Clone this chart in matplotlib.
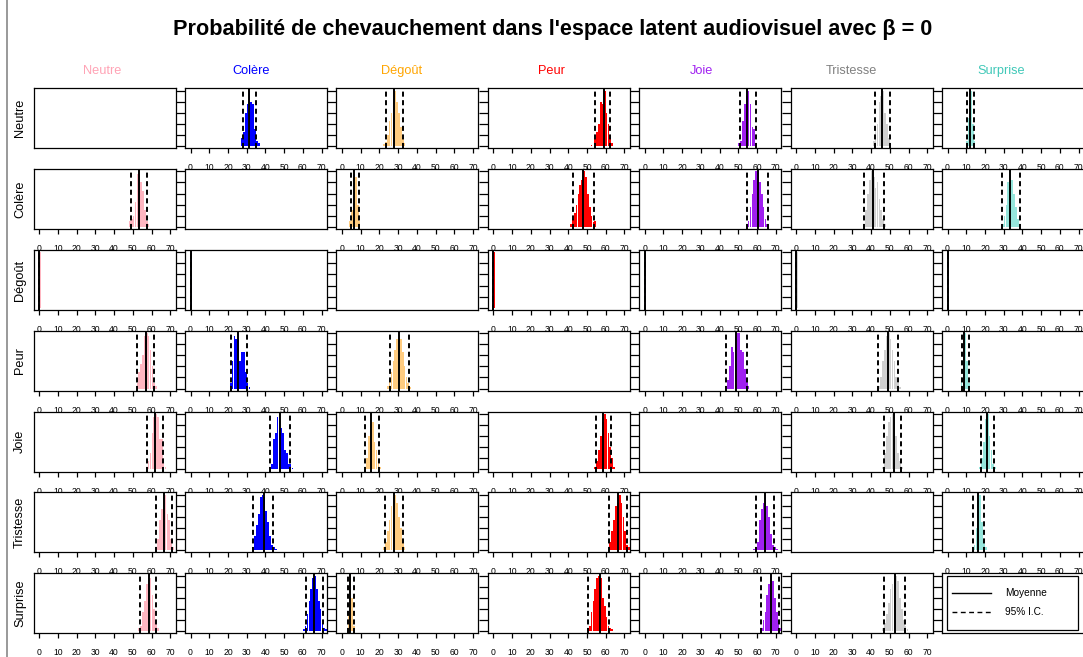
import matplotlib
matplotlib.use("Agg")
import matplotlib.pyplot as plt
from matplotlib.lines import Line2D
from matplotlib.patches import Rectangle
import numpy as np

plt.rcParams['font.family'] = ['Liberation Sans', 'DejaVu Sans']

title = "Probabilité de chevauchement dans l'espace latent audiovisuel avec β = 0"
emotions = ["Neutre", "Colère", "Dégoût", "Peur", "Joie", "Tristesse", "Surprise"]
header_colors = ["#FFA3B5", "#0000FF", "#FFA500", "#FF0000", "#A020F0", "#808080", "#40C8B8"]
bar_colors = ["#FFB6C1", "#0000FF", "#FFCC80", "#FF0000", "#A020F0", "#D0D0D0", "#96E6DC"]
x_ticks = [0, 10, 20, 30, 40, 50, 60, 70]
legend_labels = ["Moyenne", "95% I.C."]

# rows = emotion of the row label, cols = emotion of the column header; None on diagonal
means = [
    [None, 31.0, 27.6, 59.0, 54.7, 45.8, 12.1],
    [53.3, None, 6.2, 48.0, 60.3, 41.2, 33.5],
    [0.0, 0.0, None, 0.0, 0.0, 0.0, 0.0],
    [57.1, 25.6, 30.4, None, 48.9, 49.2, 8.7],
    [62.0, 47.5, 15.5, 58.3, None, 52.1, 21.0],
    [66.4, 39.1, 27.6, 66.8, 64.0, None, 16.4],
    [58.5, 66.0, 4.4, 56.8, 67.3, 53.0, None],
]
ci_low = [
    [None, 28.0, 23.3, 54.2, 51.0, 42.0, 10.5],
    [48.9, None, 4.8, 42.5, 54.8, 36.3, 29.0],
    [0.0, 0.0, None, 0.0, 0.0, 0.0, 0.0],
    [52.5, 21.6, 25.4, None, 43.4, 43.6, 7.5],
    [57.8, 42.3, 12.5, 54.8, None, 46.7, 17.9],
    [62.5, 33.6, 22.8, 61.7, 59.3, None, 13.7],
    [53.7, 61.6, 3.2, 50.7, 62.2, 47.1, None],
]
ci_high = [
    [None, 35.0, 32.6, 62.5, 59.3, 50.2, 14.0],
    [57.8, None, 9.1, 54.0, 65.9, 46.7, 38.9],
    [0.0, 0.0, None, 0.0, 0.0, 0.0, 0.0],
    [61.2, 30.0, 35.9, None, 54.4, 54.4, 11.2],
    [66.1, 52.9, 19.8, 62.8, None, 56.0, 24.8],
    [70.7, 44.0, 32.8, 71.5, 68.9, None, 19.6],
    [62.5, 70.5, 6.2, 62.0, 71.7, 58.2, None],
]
hist_start = [
    [None, 27, 22, 52, 50, 41, 10],
    [48, None, 4, 41, 54, 36, 29],
    [0, 0, None, 0, 0, 0, 0],
    [52, 21, 24, None, 43, 44, 7],
    [57, 42, 12, 54, None, 46, 17],
    [62, 33, 22, 62, 58, None, 14],
    [53, 60, 3, 50, 62, 46, None],
]
hist_heights = [
    [None,
     [0.15, 0.25, 0.6, 0.75, 1.0, 0.8, 0.75, 0.3, 0.1, 0.05],
     [0.03, 0.08, 0.2, 0.45, 0.6, 0.85, 1.0, 0.8, 0.6, 0.35, 0.15, 0.05],
     [0.02, 0.0, 0.12, 0.25, 0.4, 0.8, 0.75, 1.0, 0.6, 0.4, 0.2, 0.05],
     [0.05, 0.1, 0.45, 0.75, 0.9, 1.0, 0.75, 0.35, 0.3, 0.05],
     [0.1, 0.35, 0.4, 0.8, 0.9, 1.0, 0.6, 0.4, 0.15, 0.05],
     [0.1, 0.5, 1.0, 0.4, 0.1]],
    [[0.1, 0.15, 0.2, 0.45, 0.95, 1.0, 0.8, 0.65, 0.3, 0.1, 0.05],
     None,
     [0.1, 0.3, 1.0, 0.9, 0.4, 0.1],
     [0.05, 0.15, 0.25, 0.4, 0.6, 0.75, 0.85, 1.0, 0.9, 0.6, 0.35, 0.2, 0.08, 0.1],
     [0.03, 0.1, 0.35, 0.6, 0.85, 1.0, 1.0, 0.8, 0.6, 0.35, 0.15, 0.05],
     [0.05, 0.3, 0.6, 0.85, 1.0, 0.9, 0.7, 0.8, 0.5, 0.3, 0.15, 0.05],
     [0.05, 0.2, 0.4, 0.8, 1.0, 0.85, 0.6, 0.35, 0.15, 0.05]],
    [[1.0], [1.0], None, [1.0], [1.0], [1.0], [1.0]],
    [[0.1, 0.3, 0.45, 0.6, 0.95, 1.0, 0.95, 0.7, 0.4, 0.1, 0.05],
     [0.1, 0.5, 0.95, 0.9, 1.0, 0.5, 0.65, 0.65, 0.3, 0.1, 0.03],
     [0.05, 0.15, 0.3, 0.5, 0.7, 0.9, 1.0, 0.9, 0.65, 0.4, 0.2, 0.1, 0.03],
     None,
     [0.05, 0.15, 0.4, 0.75, 0.65, 0.95, 1.0, 1.0, 0.7, 0.65, 0.35, 0.15, 0.05],
     [0.05, 0.2, 0.5, 0.7, 0.95, 1.0, 0.9, 0.7, 0.5, 0.2, 0.1, 0.03],
     [0.2, 0.6, 1.0, 0.5, 0.1]],
    [[0.05, 0.15, 0.3, 0.65, 0.95, 1.0, 0.95, 0.55, 0.55, 0.2, 0.05],
     [0.05, 0.1, 0.55, 0.65, 0.95, 1.0, 0.75, 0.65, 0.35, 0.3, 0.1, 0.1, 0.03],
     [0.05, 0.2, 0.6, 1.0, 0.85, 0.5, 0.35, 0.15, 0.05],
     [0.05, 0.15, 0.35, 0.6, 0.85, 1.0, 0.9, 0.65, 0.4, 0.2, 0.05],
     None,
     [0.05, 0.3, 0.6, 0.85, 0.95, 1.0, 0.85, 0.6, 0.3, 0.15, 0.05],
     [0.05, 0.2, 0.5, 0.9, 1.0, 0.6, 0.35, 0.1, 0.05]],
    [[0.05, 0.2, 0.55, 0.75, 0.95, 1.0, 0.65, 0.55, 0.2, 0.05],
     [0.05, 0.25, 0.45, 0.65, 0.95, 1.0, 0.95, 0.7, 0.5, 0.25, 0.1, 0.05, 0.03],
     [0.05, 0.15, 0.35, 0.55, 0.8, 0.95, 1.0, 0.85, 0.6, 0.4, 0.2, 0.05],
     [0.15, 0.35, 0.55, 0.8, 0.85, 1.0, 0.85, 0.6, 0.35, 0.1, 0.05],
     [0.02, 0.05, 0.15, 0.55, 0.75, 0.85, 1.0, 0.8, 0.6, 0.3, 0.1, 0.05, 0.02],
     None,
     [0.1, 0.4, 0.9, 1.0, 0.5, 0.15, 0.05]],
    [[0.05, 0.1, 0.35, 0.55, 0.85, 1.0, 0.95, 0.65, 0.4, 0.15, 0.05],
     [0.03, 0.1, 0.3, 0.55, 0.75, 0.95, 1.0, 0.75, 0.55, 0.4, 0.15, 0.05, 0.03],
     [0.3, 1.0, 0.6, 0.1],
     [0.05, 0.1, 0.35, 0.55, 0.75, 0.95, 1.0, 0.95, 0.6, 0.45, 0.25, 0.1, 0.05, 0.03],
     [0.05, 0.2, 0.35, 0.65, 0.85, 1.0, 0.9, 0.6, 0.35, 0.2, 0.05],
     [0.05, 0.15, 0.3, 0.5, 0.75, 0.85, 0.95, 1.0, 0.9, 0.6, 0.4, 0.2, 0.1, 0.03],
     None],
]

W, H = 1083, 657
fig = plt.figure(figsize=(W / 100, H / 100), dpi=100)

left0, col_pitch, box_w = 33.5, 151.4, 142.0
top0, row_pitch, box_h = 88.3, 80.83, 60.0

fig.text(553 / W, 1 - 30 / H, title, ha="center", va="center",
         fontsize=15.6, fontweight="bold")

# frame line at left of figure
fig.add_artist(Line2D([6.5 / W, 6.5 / W], [0, 1], color="#888888", lw=1.2))

for i, name in enumerate(emotions):
    fig.text((101.7 + 149.9 * i) / W, 1 - 71 / H, name, ha="center", va="center",
             fontsize=9.2, color=header_colors[i])
    fig.text(20 / W, 1 - (top0 + row_pitch * i + box_h / 2) / H, name, ha="center",
             va="center", rotation=90, fontsize=9.2)

for r in range(7):
    for c in range(7):
        x0 = left0 + col_pitch * c
        yt = top0 + row_pitch * r
        ax = fig.add_axes([x0 / W, 1 - (yt + box_h) / H, box_w / W, box_h / H])
        ax.set_facecolor("white")
        for s in ax.spines.values():
            s.set_linewidth(0.9)
            s.set_color("black")
        ax.set_xlim(-3.0, 72.8)
        heights = hist_heights[r][c]
        m = max(heights) if heights is not None else 1.0
        ax.set_ylim(-0.04 * m, 1.04 * m)
        ax.set_yticks(np.linspace(0, m, 6))
        ax.set_yticklabels([])
        ax.tick_params(axis="y", direction="out", length=6.6, width=0.9,
                       left=(c > 0))
        if heights is not None:
            xs = hist_start[r][c] + np.arange(len(heights))
            ax.bar(xs, heights, width=0.9, align="edge", color=bar_colors[c],
                   linewidth=0)
            ax.axvline(means[r][c], color="black", lw=1.4)
            for v in (ci_low[r][c], ci_high[r][c]):
                ax.axvline(v, color="black", lw=1.4, linestyle=(0, (2.6, 1.8)))
            ax.set_xticks(x_ticks)
            ax.set_xticklabels([str(t) for t in x_ticks])
            ax.tick_params(axis="x", direction="out", length=3.6, width=0.9,
                           pad=7.2, labelsize=6.2)
        else:
            ax.set_xticks([])
        if r == 6 and c == 6:
            ax.add_patch(Rectangle((0.035, 0.06), 0.925, 0.9, transform=ax.transAxes,
                                   fill=False, edgecolor="black", lw=0.9))
            ax.add_line(Line2D([0.07, 0.345], [0.67, 0.67], transform=ax.transAxes,
                               color="black", lw=1.0))
            ax.add_line(Line2D([0.07, 0.345], [0.36, 0.36], transform=ax.transAxes,
                               color="black", lw=1.0, linestyle=(0, (3.5, 2.5))))
            ax.text(0.445, 0.67, legend_labels[0], transform=ax.transAxes,
                    va="center", ha="left", fontsize=7.3)
            ax.text(0.445, 0.36, legend_labels[1], transform=ax.transAxes,
                    va="center", ha="left", fontsize=7.3)

fig.savefig("out.png", dpi=100)
